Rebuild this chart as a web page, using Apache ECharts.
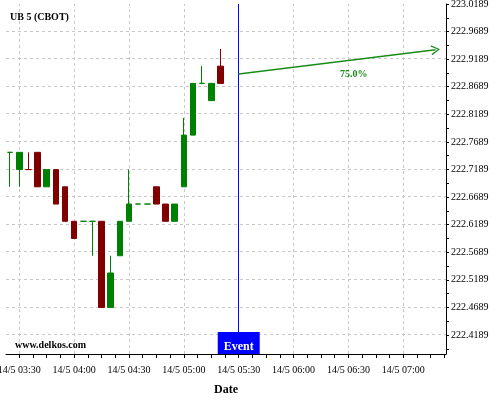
<!DOCTYPE html>
<html><head><meta charset="utf-8">
<script src="https://cdn.jsdelivr.net/npm/echarts@6/dist/echarts.min.js"></script>
<style>html,body{margin:0;padding:0;background:#fff}#c{width:500px;height:400px}</style>
</head><body><div id="c"></div>
<script>
// ---- data ----
const title = 'UB 5 (CBOT)';
const watermark = 'www.delkos.com';
const times = ['03:25','03:30','03:35','03:40','03:45','03:50','03:55','04:00','04:05','04:10','04:15','04:20',
               '04:25','04:30','04:35','04:40','04:45','04:50','04:55','05:00','05:05','05:10','05:15','05:20'];
const open  = [222.75, 222.71875, 222.71875, 222.75, 222.6875, 222.71875, 222.6875, 222.625, 222.625, 222.625, 222.625, 222.46875,
               222.5625, 222.625, 222.65625, 222.65625, 222.6875, 222.65625, 222.625, 222.6875, 222.78125, 222.875, 222.84375, 222.90625];
const close = [222.75, 222.75, 222.71875, 222.6875, 222.71875, 222.65625, 222.625, 222.59375, 222.625, 222.625, 222.46875, 222.53125,
               222.625, 222.65625, 222.65625, 222.65625, 222.65625, 222.625, 222.65625, 222.78125, 222.875, 222.875, 222.875, 222.875];
const low   = [222.6875, 222.6875, 222.71875, 222.6875, 222.6875, 222.65625, 222.625, 222.59375, 222.625, 222.5625, 222.46875, 222.46875,
               222.5625, 222.625, 222.65625, 222.65625, 222.65625, 222.625, 222.625, 222.6875, 222.78125, 222.875, 222.84375, 222.875];
const high  = [222.75, 222.75, 222.75, 222.75, 222.71875, 222.71875, 222.6875, 222.625, 222.625, 222.625, 222.625, 222.5625,
               222.625, 222.71875, 222.65625, 222.65625, 222.6875, 222.65625, 222.65625, 222.8125, 222.875, 222.90625, 222.875, 222.9375];
const yTickLabels = ['222.4189','222.4689','222.5189','222.5689','222.6189','222.6689','222.7189',
                     '222.7689','222.8189','222.8689','222.9189','222.9689','223.0189'];
const xTickLabels = ['14/5 03:30','14/5 04:00','14/5 04:30','14/5 05:00','14/5 05:30','14/5 06:00','14/5 06:30','14/5 07:00'];
const xRange = ['03:22:44', '07:23:21'];
const yRange = [222.3844, 223.0189];
const eventTime = '05:30';
const eventLabel = 'Event';
const forecastStart = ['05:30', 222.8922];
const forecastEnd = ['07:17:36', 222.9360];
const forecastText = '75.0%';
const forecastTextAt = ['06:32:53', 222.8904];
const xName = 'Date';

// ---- build ----
const ts = (t) => { const p = t.split(':').map(Number); return Date.UTC(2015, 4, 14, p[0], p[1], p[2] || 0); };
const FONT = '"Liberation Serif", "Times New Roman", serif';
const UP = '#008000', DOWN = '#800000';
const GRID_STYLE = { color: '#c8c8c8', type: [3, 3], width: 1 };

const candles = times.map((t, i) => {
  let up;
  if (close[i] > open[i]) up = true;
  else if (close[i] < open[i]) up = false;
  else up = i > 0 ? close[i - 1] <= close[i] : true;
  const col = up ? UP : DOWN;
  return { value: [ts(t), open[i], close[i], low[i], high[i]],
    itemStyle: { color: col, color0: col, borderColor: col, borderColor0: col, borderColorDoji: col } };
});

// y: labelled ticks every 0.05, plus an unlabelled tick half-way
const yLabelVals = yTickLabels.map(Number);
const yStep = yLabelVals[1] - yLabelVals[0];
const yTickVals = [];
yLabelVals.forEach(v => { yTickVals.push(v); yTickVals.push(Math.round((v - yStep / 2) * 1e6) / 1e6); });
const yTicksIn = yTickVals.filter(v => v >= yRange[0] && v <= yRange[1]).sort((a, b) => a - b);
const yLabelMap = {}; yTickLabels.forEach(s => { yLabelMap[Number(s).toFixed(4)] = s; });

// x: labelled ticks every 30 min, three unlabelled ticks between
const xLabelVals = xTickLabels.map(s => ts(s.split(' ')[1]));
const xStep = xLabelVals[1] - xLabelVals[0];
const xTickVals = [];
for (let k = -1; k <= xLabelVals.length; k++) {
  for (let j = 0; j < 4; j++) xTickVals.push(xLabelVals[0] + k * xStep + j * xStep / 4);
}
const xMin = ts(xRange[0]), xMax = ts(xRange[1]);
const xTicksIn = xTickVals.filter(v => v >= xMin && v <= xMax);
const xLabelMap = {}; xTickLabels.forEach((s, i) => { xLabelMap[xLabelVals[i]] = s; });

const gridLines = [
  ...yLabelVals.filter(v => v < yRange[1] - 1e-6).map(v => ({ yAxis: v })),
  ...xLabelVals.map(v => ({ xAxis: v }))
];

const chart = echarts.init(document.getElementById('c'), null, { renderer: 'canvas' });
chart.setOption({
  animation: false,
  backgroundColor: '#fff',
  title: { text: title, left: 10, top: 12, padding: 0,
    textStyle: { fontFamily: FONT, fontSize: 10, fontWeight: 'bold', color: '#000' } },
  graphic: [{ type: 'text', left: 15, top: 340, z: 100,
    style: { text: watermark, font: 'bold 10px ' + FONT, fill: '#000' } }],
  grid: { left: 6, right: 54, top: 4, bottom: 46, containLabel: false, outerBoundsMode: 'none' },
  xAxis: {
    type: 'value', min: xMin, max: xMax,
    axisLine: { show: true, onZero: false, lineStyle: { color: '#000', width: 1 } },
    axisTick: { show: true, length: 4, customValues: xTicksIn, lineStyle: { color: '#000' } },
    minorTick: { show: false },
    axisLabel: { customValues: xLabelVals, formatter: (v) => xLabelMap[v] || '',
      fontFamily: FONT, fontSize: 10, color: '#000', margin: 11, hideOverlap: false },
    splitLine: { show: false },
    name: xName, nameLocation: 'middle', nameGap: 30,
    nameTextStyle: { fontFamily: FONT, fontSize: 12, fontWeight: 'bold', color: '#000' }
  },
  yAxis: {
    type: 'value', position: 'right', min: yRange[0], max: yRange[1],
    axisLine: { show: true, onZero: false, lineStyle: { color: '#000', width: 1 } },
    axisTick: { show: true, length: 3, customValues: yTicksIn, lineStyle: { color: '#000' } },
    minorTick: { show: false },
    axisLabel: { customValues: yLabelVals, formatter: (v) => yLabelMap[Number(v).toFixed(4)] || '',
      fontFamily: FONT, fontSize: 10, color: '#000', margin: 5 },
    splitLine: { show: false }
  },
  series: [
    { type: 'line', data: [], silent: true, z: 1,
      markLine: { silent: true, animation: false, symbol: ['none', 'none'], z: 1,
        label: { show: false }, lineStyle: GRID_STYLE, data: gridLines } },
    { type: 'candlestick', barWidth: 6, z: 2,
      data: candles,
      itemStyle: { borderWidth: 1 } },
    { type: 'line', data: [], silent: true, z: 5,
      markLine: {
        silent: true, animation: false, symbol: ['none', 'none'], z: 5,
        label: { show: false },
        data: [
          { xAxis: ts(eventTime), lineStyle: { color: '#0000ff', width: 1, type: 'solid' } },
          [ { coord: [ts(forecastStart[0]), forecastStart[1]], symbol: 'none' },
            { coord: [ts(forecastEnd[0]), forecastEnd[1]],
              symbol: 'path://M0,9 L5,0 L10,9 L8.8,9.6 L5,2.4 L1.2,9.6 Z', symbolSize: [10, 9],
              lineStyle: { color: '#1a8c1a', width: 1.5, type: 'solid' } } ]
        ],
        lineStyle: { color: '#1a8c1a', width: 1.5, type: 'solid' }
      },
      markPoint: {
        silent: true, animation: false, z: 6,
        data: [
          { coord: [ts(eventTime), yRange[0]], symbol: 'rect', symbolSize: [42, 22], symbolOffset: [0, -11],
            itemStyle: { color: '#0000ff' },
            label: { show: true, position: 'inside', formatter: eventLabel, color: '#fff',
              fontFamily: FONT, fontSize: 12, fontWeight: 'bold', offset: [0, 4] } },
          { coord: [ts(forecastTextAt[0]), forecastTextAt[1]], symbol: 'rect', symbolSize: 1,
            itemStyle: { color: 'rgba(0,0,0,0)' },
            label: { show: true, position: 'inside', formatter: forecastText, color: '#1a8c1a',
              fontFamily: FONT, fontSize: 10, fontWeight: 'bold' } }
        ]
      }
    }
  ]
});
</script>
</body></html>
